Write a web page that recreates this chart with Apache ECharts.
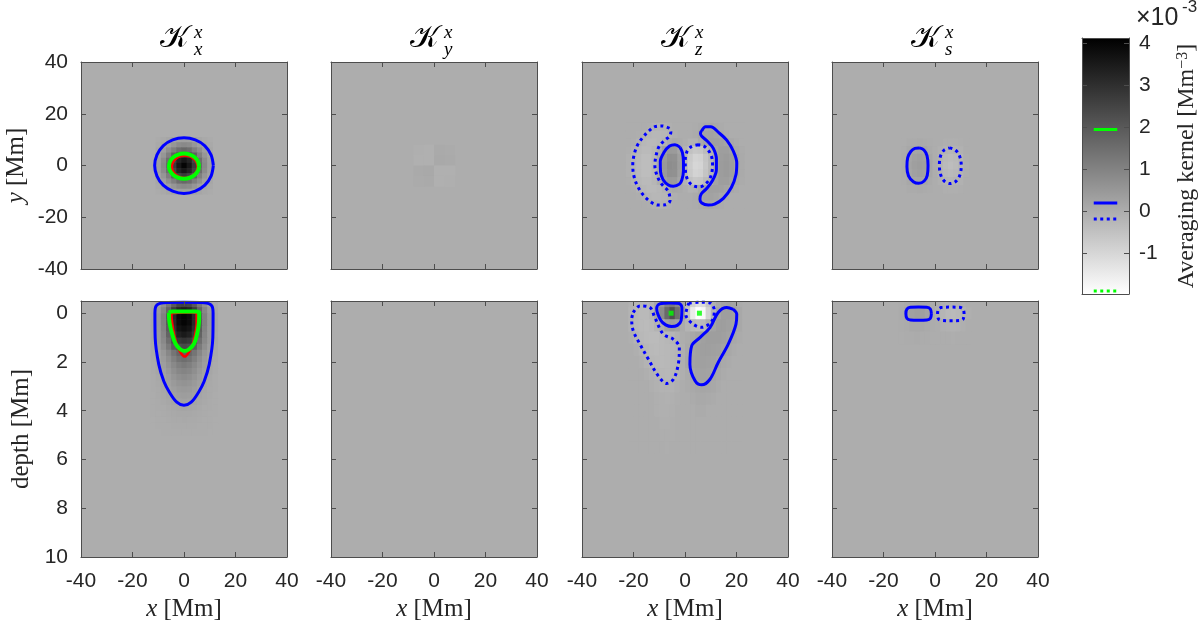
<!DOCTYPE html>
<html><head><meta charset="utf-8">
<script src="https://cdn.jsdelivr.net/npm/echarts@6/dist/echarts.min.js"></script>
<style>html,body{margin:0;padding:0;background:#fff}#c{width:1200px;height:625px}</style>
</head><body><div id="c"></div>
<script>
// ===================== DATA =====================
const cbMin = -1.97, cbMax = 4.13;            // colour bar range (x1e-3 Mm^-3)
const cbTicks = [-1, 0, 1, 2, 3, 4];
const xTicks = [-40, -20, 0, 20, 40];
const depthTicks = [0, 2, 4, 6, 8, 10];
const titleSup = ['x', 'x', 'x', 'x'];
const titleSub = ['x', 'y', 'z', 's'];

// contour level markers on the colour bar
const cbGreenSolid = [[0.25, 1.95], [0.75, 1.95]];
const cbBlueSolid = [[0.25, 0.2], [0.75, 0.2]];
const cbBlueDotted = [[0.25, -0.18], [0.75, -0.18]];
const cbGreenDotted = [[0.25, -1.9], [0.75, -1.9]];

// ---- K_x^x, horizontal cut ----
const kxxTopX = [-10, -8, -6, -4, -2, 0, 2, 4, 6, 8, 10];
const kxxTopY = [10, 8, 6, 4, 2, 0, -2, -4, -6, -8, -10];
const kxxTopZ = [
  [0.03, 0.08, 0.15, 0.22, 0.3, 0.33, 0.3, 0.22, 0.15, 0.08, 0.03],
  [0.08, 0.17, 0.33, 0.55, 0.78, 0.85, 0.78, 0.55, 0.33, 0.17, 0.08],
  [0.15, 0.33, 0.7, 1.1, 1.5, 1.65, 1.5, 1.1, 0.7, 0.33, 0.15],
  [0.22, 0.55, 1.1, 1.85, 2.5, 2.75, 2.5, 1.85, 1.1, 0.55, 0.22],
  [0.3, 0.78, 1.5, 2.5, 3.25, 3.55, 3.25, 2.5, 1.5, 0.78, 0.3],
  [0.33, 0.85, 1.65, 2.75, 3.55, 4.0, 3.55, 2.75, 1.65, 0.85, 0.33],
  [0.3, 0.78, 1.5, 2.5, 3.25, 3.55, 3.25, 2.5, 1.5, 0.78, 0.3],
  [0.22, 0.55, 1.1, 1.85, 2.5, 2.75, 2.5, 1.85, 1.1, 0.55, 0.22],
  [0.15, 0.33, 0.7, 1.1, 1.5, 1.65, 1.5, 1.1, 0.7, 0.33, 0.15],
  [0.08, 0.17, 0.33, 0.55, 0.78, 0.85, 0.78, 0.55, 0.33, 0.17, 0.08],
  [0.03, 0.08, 0.15, 0.22, 0.3, 0.33, 0.3, 0.22, 0.15, 0.08, 0.03]
];
const kxxTopBlue = [[11.4,0],[10.5,4.1],[8.1,7.6],[4.4,9.9],[0,10.7],[-4.4,9.9],[-8.1,7.6],[-10.5,4.1],[-11.4,0],[-10.5,-4.1],[-8.1,-7.6],[-4.4,-9.9],[0,-10.8],[4.4,-9.9],[8.1,-7.6],[10.5,-4.1]];
const kxxTopGreen = [[5.85,-0.25],[5.4,1.6],[4.14,3.2],[2.24,4.23],[0,4.6],[-2.24,4.23],[-4.14,3.2],[-5.4,1.6],[-5.85,-0.25],[-5.4,-2.1],[-4.14,-3.68],[-2.24,-4.73],[0,-5.1],[2.24,-4.73],[4.14,-3.68],[5.4,-2.1]];
const kxxTopRed = [[5.3,-0.5],[4.9,1.15],[3.8,2.55],[2.2,3.5],[0.3,3.8],[-1.6,3.5],[-3.2,2.55],[-4.3,1.15],[-4.7,-0.5],[-4.3,-2.15],[-3.2,-3.55],[-1.6,-4.5],[0.3,-4.8],[2.2,-4.5],[3.8,-3.55],[4.9,-2.15]];

// ---- K_y^x, horizontal cut ----
const kyxTopX = [-6, -2, 2, 6];
const kyxTopY = [6, 2, -2, -6];
const kyxTopZ = [
  [-0.05, -0.07, 0.06, 0.04],
  [-0.07, -0.09, 0.09, 0.06],
  [0.06, 0.09, -0.09, -0.07],
  [0.04, 0.06, -0.07, -0.05]
];

// ---- K_z^x, horizontal cut ----
const kzxTopX = [-22,-20,-18,-16,-14,-12,-10,-8,-6,-4,-2,0,2,4,6,8,10,12,14,16,18,20,22];
const kzxTopY = [15, 12, 9, 6, 3, 0, -3, -6, -9, -12, -15];
const kzxTopZ = [
  [0,0,0,0,-0.03,-0.1,-0.15,-0.13,-0.06,-0.02,0,0,0,0.02,0.06,0.12,0.13,0.08,0.03,0,0,0,0],
  [0,0,-0.03,-0.1,-0.2,-0.25,-0.25,-0.22,-0.14,-0.05,0,0,0,0.05,0.15,0.24,0.25,0.2,0.1,0.04,0,0,0],
  [0,-0.04,-0.12,-0.24,-0.3,-0.3,-0.24,-0.12,0.02,0.08,0.04,-0.04,-0.12,-0.1,0.08,0.2,0.3,0.3,0.28,0.2,0.1,0.03,0],
  [-0.04,-0.12,-0.25,-0.32,-0.32,-0.22,0,0.3,0.45,0.42,0.18,-0.15,-0.48,-0.62,-0.58,-0.35,-0.08,0.2,0.35,0.35,0.26,0.12,0.03],
  [-0.07,-0.2,-0.3,-0.38,-0.38,-0.25,0.08,0.45,0.68,0.65,0.3,-0.2,-0.7,-0.92,-0.88,-0.55,-0.22,0.15,0.38,0.42,0.35,0.18,0.06],
  [-0.08,-0.2,-0.32,-0.4,-0.4,-0.25,0.1,0.5,0.75,0.72,0.35,-0.2,-0.75,-1.0,-0.95,-0.6,-0.25,0.15,0.4,0.45,0.38,0.2,0.07],
  [-0.07,-0.2,-0.3,-0.38,-0.38,-0.25,0.08,0.45,0.68,0.65,0.3,-0.2,-0.7,-0.92,-0.88,-0.55,-0.22,0.15,0.38,0.42,0.35,0.18,0.06],
  [-0.04,-0.12,-0.25,-0.32,-0.32,-0.22,0,0.3,0.45,0.42,0.18,-0.15,-0.48,-0.62,-0.58,-0.35,-0.08,0.2,0.35,0.35,0.26,0.12,0.03],
  [0,-0.04,-0.12,-0.24,-0.3,-0.3,-0.24,-0.12,0.02,0.08,0.04,-0.04,-0.12,-0.1,0.08,0.2,0.3,0.3,0.28,0.2,0.1,0.03,0],
  [0,0,-0.03,-0.1,-0.2,-0.25,-0.25,-0.22,-0.14,-0.05,0,0,0,0.05,0.15,0.24,0.25,0.2,0.1,0.04,0,0,0],
  [0,0,0,0,-0.03,-0.1,-0.15,-0.13,-0.06,-0.02,0,0,0,0.02,0.06,0.12,0.13,0.08,0.03,0,0,0,0]
];
const kzxTopSolidL = [[-1.9,7.0],[-3.9,8.0],[-6.0,7.5],[-8.2,5.0],[-9.6,1.5],[-9.5,-2.5],[-8.5,-5.5],[-6.5,-7.5],[-4.5,-8.0],[-2.2,-7.2],[-1.2,-5.5],[-0.6,-2.0],[-0.6,1.5],[-1.0,5.0]];
const kzxTopSolidR = [[6.5,13.4],[8.0,15.0],[10.0,15.0],[13.0,12.8],[16.2,9.8],[18.8,5.5],[20.1,1.0],[19.8,-3.5],[18.0,-8.5],[14.9,-12.7],[11.5,-14.9],[9.0,-15.3],[6.5,-14.5],[5.8,-13.0],[6.3,-11.0],[8.5,-8.8],[10.8,-5.6],[12.2,-1.5],[12.2,2.5],[11.0,6.6],[8.8,9.3],[6.5,11.3],[6.0,12.5]];
const kzxTopDotC = [[5.2,8.0],[2.5,7.3],[0.8,5.5],[0.1,2.0],[0.2,-2.5],[1.3,-6.0],[3.2,-7.8],[5.8,-8.2],[8.3,-6.8],[9.9,-4.5],[10.7,0],[10.3,3.5],[8.8,6.2],[7.0,7.7]];
const kzxTopDotL = [[-6.0,14.4],[-8.8,15.3],[-11.7,15.0],[-14.2,13.2],[-16.4,10.8],[-18.5,7.8],[-19.8,4.0],[-20.3,0],[-19.8,-4.2],[-18.4,-8.0],[-16.2,-11.4],[-13.4,-14.0],[-10.4,-15.3],[-7.6,-15.2],[-5.8,-13.5],[-6.5,-10.0],[-8.8,-7.5],[-10.6,-4.5],[-11.7,0],[-11.2,4.0],[-10.0,7.5],[-7.8,9.8],[-6.0,11.3],[-5.5,13.0]];

// ---- K_s^x, horizontal cut ----
const ksxTopX = [-12,-10,-8,-6,-4,-2,0,2,4,6,8,10,12];
const ksxTopY = [9, 6, 3, 0, -3, -6, -9];
const ksxTopZ = [
  [0,0.03,0.05,0.06,0.05,0.02,0,-0.02,-0.05,-0.06,-0.05,-0.03,0],
  [0.02,0.1,0.16,0.19,0.16,0.07,0,-0.07,-0.16,-0.19,-0.16,-0.1,-0.02],
  [0.04,0.17,0.28,0.32,0.28,0.13,0,-0.13,-0.28,-0.32,-0.28,-0.17,-0.04],
  [0.05,0.2,0.33,0.38,0.33,0.15,0,-0.15,-0.33,-0.38,-0.33,-0.2,-0.05],
  [0.04,0.17,0.28,0.32,0.28,0.13,0,-0.13,-0.28,-0.32,-0.28,-0.17,-0.04],
  [0.02,0.1,0.16,0.19,0.16,0.07,0,-0.07,-0.16,-0.19,-0.16,-0.1,-0.02],
  [0,0.03,0.05,0.06,0.05,0.02,0,-0.02,-0.05,-0.06,-0.05,-0.03,0]
];
const ksxTopSolid = [[-6.1,6.8],[-4.3,6.0],[-3.1,3.8],[-2.7,0],[-3.0,-3.8],[-4.2,-6.0],[-6.3,-6.9],[-8.4,-6.3],[-10.3,-4.0],[-10.9,-0.5],[-10.6,3.0],[-9.4,5.4],[-7.8,6.6]];
const ksxTopDot = [[5.6,6.8],[8.0,5.9],[9.6,3.5],[10.2,0],[9.7,-3.6],[8.2,-6.0],[5.9,-7.0],[3.6,-6.0],[2.2,-3.6],[1.7,0],[2.1,3.5],[3.5,5.9]];

// ---- K_x^x, vertical cut ----
const kxxBotX = [-12,-10,-8,-6,-4,-2,0,2,4,6,8,10,12];
const kxxBotD = [-0.375,-0.125,0.125,0.375,0.625,0.875,1.125,1.375,1.625,1.875,2.125,2.375,2.625,2.875,3.125,3.375,3.625,3.875,4.125,4.375,4.625,4.875];
const kxxBotZ = [
  [0.1,0.31,0.65,1.25,2.0,2.5,2.6,2.5,2.0,1.25,0.65,0.31,0.1],
  [0.14,0.42,0.9,1.7,2.75,3.35,3.5,3.35,2.75,1.7,0.9,0.42,0.14],
  [0.16,0.5,1.05,2.0,3.15,3.85,4.0,3.85,3.15,2.0,1.05,0.5,0.16],
  [0.16,0.5,1.05,2.0,3.15,3.85,4.0,3.85,3.15,2.0,1.05,0.5,0.16],
  [0.15,0.48,1.0,1.9,3.0,3.65,3.8,3.65,3.0,1.9,1.0,0.48,0.15],
  [0.14,0.44,0.92,1.75,2.75,3.35,3.5,3.35,2.75,1.75,0.92,0.44,0.14],
  [0.17,0.44,0.85,1.5,2.3,2.8,2.9,2.8,2.3,1.5,0.85,0.44,0.17],
  [0.14,0.36,0.7,1.22,1.9,2.3,2.4,2.3,1.9,1.22,0.7,0.36,0.14],
  [0.11,0.28,0.52,0.89,1.33,1.7,1.85,1.7,1.33,0.89,0.52,0.28,0.11],
  [0.09,0.23,0.42,0.72,1.08,1.38,1.5,1.38,1.08,0.72,0.42,0.23,0.09],
  [0.07,0.18,0.34,0.58,0.86,1.1,1.2,1.1,0.86,0.58,0.34,0.18,0.07],
  [0.06,0.15,0.27,0.47,0.7,0.89,0.97,0.89,0.7,0.47,0.27,0.15,0.06],
  [0.05,0.12,0.22,0.37,0.56,0.72,0.78,0.72,0.56,0.37,0.22,0.12,0.05],
  [0.04,0.09,0.17,0.3,0.45,0.57,0.62,0.57,0.45,0.3,0.17,0.09,0.04],
  [0.03,0.07,0.13,0.23,0.35,0.44,0.48,0.44,0.35,0.23,0.13,0.07,0.03],
  [0.02,0.06,0.1,0.18,0.27,0.34,0.37,0.34,0.27,0.18,0.1,0.06,0.02],
  [0.02,0.04,0.08,0.13,0.2,0.26,0.28,0.26,0.2,0.13,0.08,0.04,0.02],
  [0.01,0.03,0.05,0.09,0.13,0.17,0.18,0.17,0.13,0.09,0.05,0.03,0.01],
  [0.01,0.02,0.03,0.06,0.09,0.11,0.12,0.11,0.09,0.06,0.03,0.02,0.01],
  [0,0.01,0.02,0.04,0.06,0.07,0.08,0.07,0.06,0.04,0.02,0.01,0],
  [0,0.01,0.01,0.02,0.03,0.04,0.04,0.04,0.03,0.02,0.01,0.01,0],
  [0,0,0.01,0.01,0.01,0.02,0.02,0.02,0.01,0.01,0.01,0,0]
];
const kxxBotBlue = [[-11.3,0],[-10.8,-0.3],[-8,-0.43],[0,-0.45],[8,-0.43],[10.8,-0.3],[11.3,0],[11.2,1.0],[9.8,2.1],[7.8,2.8],[5.6,3.25],[2.8,3.65],[0,3.78],[-2.8,3.65],[-5.6,3.25],[-7.8,2.8],[-9.8,2.1],[-11.2,1.0]];
const kxxBotGreen = [[-5.9,-0.02],[-4.6,-0.07],[0,-0.07],[4.6,-0.07],[5.9,-0.02],[5.8,0.4],[5.1,0.85],[3.9,1.25],[2.0,1.48],[0.3,1.55],[-1.5,1.48],[-3.3,1.25],[-4.6,0.85],[-5.6,0.4]];
const kxxBotRed = [[-4.9,0.0],[0,-0.03],[4.9,0.0],[4.9,0.4],[4.3,0.9],[3.1,1.35],[1.6,1.65],[0.3,1.78],[-1.1,1.65],[-2.6,1.35],[-3.8,0.9],[-4.6,0.4]];

// ---- K_z^x, vertical cut ----
const kzxBotX = [-21,-19,-17,-15,-13,-11,-9,-7,-5,-3,-1,1,3,5,7,9,11,13,15,17,19,21];
const kzxBotD = [-0.5,0,0.5,1.0,1.5,2.0,2.5,3.0,3.5,4.0,4.5,5.0,5.5];
const kzxBotZ = [
  [-0.1,-0.2,-0.25,-0.25,-0.15,0.1,0.5,1.0,1.2,0.9,0.2,-0.3,-0.9,-1.2,-1.1,-0.6,-0.1,0.1,0.2,0.25,0.2,0.05],
  [-0.15,-0.25,-0.3,-0.3,-0.2,0.2,0.8,1.6,2.2,1.5,0.4,-0.5,-1.5,-2.2,-1.8,-0.9,-0.2,0.2,0.35,0.35,0.3,0.1],
  [-0.15,-0.28,-0.32,-0.35,-0.3,-0.15,0.0,0.25,0.35,0.25,0.05,-0.15,-0.3,-0.4,-0.3,0.0,0.22,0.35,0.35,0.3,0.25,0.1],
  [-0.05,-0.18,-0.28,-0.32,-0.35,-0.35,-0.3,-0.25,-0.2,-0.1,0,0.05,0.12,0.2,0.3,0.35,0.35,0.35,0.3,0.22,0.12,0.03],
  [0,-0.05,-0.15,-0.25,-0.3,-0.32,-0.3,-0.28,-0.25,-0.2,-0.05,0.08,0.2,0.28,0.32,0.32,0.3,0.27,0.2,0.12,0.05,0],
  [0,0,-0.05,-0.15,-0.25,-0.28,-0.3,-0.28,-0.25,-0.2,-0.05,0.1,0.22,0.28,0.3,0.28,0.25,0.18,0.08,0.03,0,0],
  [0,0,0,-0.05,-0.12,-0.2,-0.25,-0.26,-0.24,-0.17,-0.05,0.05,0.17,0.24,0.26,0.24,0.18,0.1,0.04,0,0,0],
  [0,0,0,0,-0.05,-0.1,-0.14,-0.16,-0.14,-0.08,-0.02,0.03,0.08,0.14,0.16,0.14,0.1,0.05,0,0,0,0],
  [0,0,0,0,0,-0.06,-0.09,-0.1,-0.08,-0.04,0,0,0.04,0.08,0.09,0.07,0.04,0,0,0,0,0],
  [0,0,0,0,0,-0.05,-0.07,-0.07,-0.05,0,0,0,0,0.05,0.05,0,0,0,0,0,0,0],
  [0,0,0,0,0,0,-0.05,-0.05,-0.04,0,0,0,0,0,0,0,0,0,0,0,0,0],
  [0,0,0,0,0,0,-0.03,-0.04,-0.03,0,0,0,0,0,0,0,0,0,0,0,0,0],
  [0,0,0,0,0,0,0,-0.03,-0.02,0,0,0,0,0,0,0,0,0,0,0,0,0]
];
const kzxBotSolidS = [[-5.8,-0.42],[-2.3,-0.4],[-1.2,-0.22],[-1.5,0.3],[-3.0,0.5],[-5.2,0.55],[-7.5,0.48],[-9.5,0.28],[-11.0,-0.2],[-9.8,-0.38]];
const kzxBotDotS = [[1.5,-0.42],[5.8,-0.45],[9.7,-0.42],[11.4,-0.1],[10.3,0.35],[6.5,0.58],[2.8,0.42],[0.3,0.05]];
const kzxBotDotL = [[-20.1,-0.03],[-17.5,-0.3],[-13.6,-0.23],[-11.7,0.18],[-8.4,0.86],[-4.5,1.07],[-2.2,1.41],[-2.6,2.09],[-4.5,2.71],[-7.1,2.88],[-10.4,2.57],[-14.2,1.89],[-17.5,1.27],[-20.1,0.72],[-20.7,0.25]];
const kzxBotSolidL = [[18.8,-0.16],[16.2,-0.23],[12.9,-0.03],[9.7,0.59],[5.8,1.0],[2.6,1.34],[1.9,2.09],[3.9,2.77],[6.5,2.94],[9.7,2.71],[12.9,2.02],[16.8,1.27],[19.8,0.45],[20.1,0.04]];
const kzxBotSpotPos = [[-5.4, 0]];
const kzxBotSpotNeg = [[5.6, 0]];

// ---- K_s^x, vertical cut ----
const ksxBotX = [-13,-11,-9,-7,-5,-3,-1,1,3,5,7,9,11,13];
const ksxBotD = [-0.5, 0, 0.5, 1.0];
const ksxBotZ = [
  [0.02,0.06,0.11,0.13,0.12,0.08,0.02,-0.02,-0.08,-0.12,-0.13,-0.11,-0.06,-0.02],
  [0.05,0.15,0.28,0.33,0.3,0.2,0.05,-0.05,-0.2,-0.3,-0.33,-0.28,-0.15,-0.05],
  [0.02,0.05,0.1,0.12,0.1,0.07,0.02,-0.02,-0.07,-0.1,-0.12,-0.1,-0.05,-0.02],
  [0,0.01,0.02,0.03,0.02,0.02,0,0,-0.02,-0.02,-0.03,-0.02,-0.01,0]
];
const ksxBotSolid = [[-1.4,0.02],[-1.8,-0.17],[-3.2,-0.24],[-6.35,-0.25],[-9.5,-0.24],[-10.9,-0.17],[-11.3,0.02],[-10.9,0.21],[-9.5,0.28],[-6.35,0.29],[-3.2,0.28],[-1.8,0.21]];
const ksxBotDot = [[11.3,0.03],[10.9,-0.17],[9.4,-0.24],[6.15,-0.25],[2.9,-0.24],[1.4,-0.17],[1.0,0.03],[1.4,0.24],[2.9,0.3],[6.15,0.31],[9.4,0.3],[10.9,0.24]];

// ===================== LAYOUT / STYLE =====================
const colLefts = [81, 331, 582, 832], colW = 206;
const rowsL = [{ top: 62, h: 207 }, { top: 301, h: 256 }];
const cbBox = { left: 1082, top: 38, width: 51, height: 256 };
const axisColor = '#4d4d4d', textColor = '#262626';
const sansFont = 'Liberation Sans, Arial, Helvetica, sans-serif';
const serifFont = 'Liberation Serif, DejaVu Serif, serif';
const BLUE = '#0000ff', GREEN = '#00ff00', RED = '#ff0000';

function gray(v) {
  let t = (v - cbMin) / (cbMax - cbMin);
  t = Math.max(0, Math.min(1, t));
  const g = Math.round(255 * (1 - t));
  return 'rgb(' + g + ',' + g + ',' + g + ')';
}

const panels = [
  { cells: [[kxxTopX, kxxTopY, kxxTopZ]], red: [kxxTopRed], green: [kxxTopGreen], solid: [kxxTopBlue] },
  { cells: [[kyxTopX, kyxTopY, kyxTopZ]] },
  { cells: [[kzxTopX, kzxTopY, kzxTopZ]], solid: [kzxTopSolidL, kzxTopSolidR], dotted: [kzxTopDotC, kzxTopDotL] },
  { cells: [[ksxTopX, ksxTopY, ksxTopZ]], solid: [ksxTopSolid], dotted: [ksxTopDot] },
  { cells: [[kxxBotX, kxxBotD, kxxBotZ]], red: [kxxBotRed], green: [kxxBotGreen], solid: [kxxBotBlue] },
  { cells: [] },
  { cells: [[kzxBotX, kzxBotD, kzxBotZ]], solid: [kzxBotSolidS, kzxBotSolidL], dotted: [kzxBotDotS, kzxBotDotL], spots: [kzxBotSpotPos, kzxBotSpotNeg] },
  { cells: [[ksxBotX, ksxBotD, ksxBotZ]], solid: [ksxBotSolid], dotted: [ksxBotDot] }
];

function renderCell(params, api) {
  const x = api.value(0), y = api.value(1), v = api.value(2), w = api.value(3), h = api.value(4);
  const a = api.coord([x - w / 2, y - h / 2]);
  const b = api.coord([x + w / 2, y + h / 2]);
  const cs = params.coordSys;
  let x0 = Math.max(Math.min(a[0], b[0]), cs.x), x1 = Math.min(Math.max(a[0], b[0]) + 0.6, cs.x + cs.width);
  let y0 = Math.max(Math.min(a[1], b[1]), cs.y), y1 = Math.min(Math.max(a[1], b[1]) + 0.6, cs.y + cs.height);
  if (x1 <= x0 || y1 <= y0) return null;
  return { type: 'rect', shape: { x: x0, y: y0, width: x1 - x0, height: y1 - y0 }, style: { fill: gray(v) } };
}

function closeLoop(pts) { return pts.concat([pts[0]]); }

const grids = [], xAxes = [], yAxes = [], series = [], graphics = [];
const tickStyle = { show: true, inside: true, length: 5, lineStyle: { color: axisColor, width: 1 } };
const lineAx = { show: true, onZero: false, lineStyle: { color: axisColor, width: 1 } };
const labelStyle = { fontFamily: sansFont, fontSize: 21, color: textColor };
const nameStyle = { fontFamily: serifFont, fontSize: 25, color: textColor,
  rich: { i: { fontFamily: serifFont, fontSize: 25, fontStyle: 'italic', color: textColor } } };

for (let r = 0; r < 2; r++) {
  for (let c = 0; c < 4; c++) {
    const gi = grids.length;
    grids.push({ left: colLefts[c], top: rowsL[r].top, width: colW, height: rowsL[r].h,
      show: true, backgroundColor: gray(0), borderWidth: 0 });
    const bx = { type: 'value', gridIndex: gi, min: -40, max: 40, interval: 20, z: 10,
      axisLine: lineAx, axisTick: tickStyle, splitLine: { show: false } };
    xAxes.push(Object.assign({}, bx, { position: 'bottom',
      axisLabel: Object.assign({ show: r === 1, margin: 14 }, labelStyle),
      name: r === 1 ? '{i|x} [Mm]' : '', nameLocation: 'middle', nameGap: 40, nameTextStyle: nameStyle }));
    xAxes.push(Object.assign({}, bx, { position: 'top', axisLabel: { show: false } }));
    let by;
    if (r === 0) {
      by = { type: 'value', gridIndex: gi, min: -40, max: 40, interval: 20, z: 10,
        axisLine: lineAx, axisTick: tickStyle, splitLine: { show: false } };
    } else {
      by = { type: 'value', gridIndex: gi, min: -0.5, max: 10, inverse: true, z: 10,
        axisLine: lineAx, axisTick: Object.assign({ customValues: depthTicks }, tickStyle), splitLine: { show: false } };
    }
    const lab = Object.assign({ show: c === 0, margin: 13 }, labelStyle);
    if (r === 1) lab.customValues = depthTicks;
    yAxes.push(Object.assign({}, by, { position: 'left', axisLabel: lab,
      name: c === 0 ? (r === 0 ? '{i|y} [Mm]' : 'depth [Mm]') : '', nameLocation: 'middle', nameRotate: 90,
      nameGap: r === 0 ? 52 : 47, nameTextStyle: nameStyle }));
    yAxes.push(Object.assign({}, by, { position: 'right', axisLabel: { show: false } }));

    const p = panels[gi];
    const ai = 2 * gi;
    const cellData = [];
    p.cells.forEach(function (L) {
      const xs = L[0], ys = L[1], zs = L[2];
      const dx = Math.abs(xs[1] - xs[0]), dy = Math.abs(ys[1] - ys[0]);
      for (let j = 0; j < ys.length; j++) for (let i = 0; i < xs.length; i++)
        cellData.push([xs[i], ys[j], zs[j][i], dx, dy]);
    });
    if (cellData.length) series.push({ type: 'custom', xAxisIndex: ai, yAxisIndex: ai, data: cellData,
      renderItem: renderCell, silent: true, z: 1, animation: false });
    const addLines = function (list, color, width, type, z) {
      (list || []).forEach(function (pts) {
        series.push({ type: 'line', xAxisIndex: ai, yAxisIndex: ai, data: closeLoop(pts), smooth: 0.35,
          symbol: 'none', silent: true, z: z, animation: false,
          lineStyle: { color: color, width: width, type: type, cap: 'butt' } });
      });
    };
    addLines(p.red, RED, 2.5, 'solid', 3);
    addLines(p.green, GREEN, 4, 'solid', 4);
    addLines(p.solid, BLUE, 3, 'solid', 5);
    addLines(p.dotted, BLUE, 3, [3, 3.5], 5);
    (p.spots || []).forEach(function (pts) {
      series.push({ type: 'scatter', xAxisIndex: ai, yAxisIndex: ai, data: pts, symbol: 'rect', symbolSize: 5,
        itemStyle: { color: GREEN }, silent: true, z: 6, animation: false });
    });

    if (r === 0) {
      const cx = colLefts[c] + colW / 2;
      graphics.push({ type: 'text', left: cx - 24, top: 23, style: { text: '\u{1D4A6}', font: '31px "DejaVu Serif", serif', fill: '#000' } });
      graphics.push({ type: 'text', left: cx + 10, top: 23, style: { text: titleSup[c], font: 'italic 19px "Liberation Serif", serif', fill: '#000' } });
      graphics.push({ type: 'text', left: cx + 10, top: 40, style: { text: titleSub[c], font: 'italic 19px "Liberation Serif", serif', fill: '#000' } });
    }
  }
}

// ---- colour bar ----
const cgi = grids.length;
grids.push({ left: cbBox.left, top: cbBox.top, width: cbBox.width, height: cbBox.height, show: false });
const cbx = { type: 'value', gridIndex: cgi, min: 0, max: 1, z: 10, axisLine: lineAx, axisTick: { show: false },
  axisLabel: { show: false }, splitLine: { show: false } };
xAxes.push(Object.assign({}, cbx, { position: 'bottom' }));
xAxes.push(Object.assign({}, cbx, { position: 'top' }));
const cby = { type: 'value', gridIndex: cgi, min: cbMin, max: cbMax, z: 10, axisLine: lineAx,
  axisTick: Object.assign({ customValues: cbTicks }, tickStyle), splitLine: { show: false } };
yAxes.push(Object.assign({}, cby, { position: 'right',
  axisLabel: Object.assign({ customValues: cbTicks, margin: 10 }, labelStyle),
  name: 'Averaging kernel [Mm{s|\u22123}]', nameLocation: 'middle', nameRotate: 90, nameGap: 46,
  nameTextStyle: { fontFamily: serifFont, fontSize: 24, color: textColor,
    rich: { s: { fontFamily: serifFont, fontSize: 16, color: textColor, verticalAlign: 'top' } } } }));
yAxes.push(Object.assign({}, cby, { position: 'left', axisLabel: { show: false } }));
const cai = 2 * cgi;
series.push({ type: 'custom', xAxisIndex: cai, yAxisIndex: cai, data: [[0, cbMin, cbMax]], silent: true, z: 1, animation: false,
  renderItem: function (params, api) {
    const a = api.coord([0, api.value(2)]), b = api.coord([1, api.value(1)]);
    return { type: 'rect', shape: { x: a[0], y: a[1], width: b[0] - a[0], height: b[1] - a[1] },
      style: { fill: { type: 'linear', x: 0, y: 0, x2: 0, y2: 1,
        colorStops: [{ offset: 0, color: gray(cbMax) }, { offset: 1, color: gray(cbMin) }] } } };
  } });
[[cbGreenSolid, GREEN, 'solid'], [cbBlueSolid, BLUE, 'solid'], [cbBlueDotted, BLUE, [3, 3.5]], [cbGreenDotted, GREEN, [3, 3.5]]]
  .forEach(function (m) {
    series.push({ type: 'line', xAxisIndex: cai, yAxisIndex: cai, data: m[0], symbol: 'none', silent: true, z: 5, animation: false,
      lineStyle: { color: m[1], width: 3, type: m[2], cap: 'butt' } });
  });
graphics.push({ type: 'text', left: 1136, top: 6, style: { text: '\u00d710', font: '25px "Liberation Sans", sans-serif', fill: textColor } });
graphics.push({ type: 'text', left: 1182, top: -1, style: { text: '-3', font: '17px "Liberation Sans", sans-serif', fill: textColor } });

const chart = echarts.init(document.getElementById('c'));
chart.setOption({
  animation: false,
  backgroundColor: '#ffffff',
  grid: grids, xAxis: xAxes, yAxis: yAxes, series: series, graphic: graphics
});
</script>
</body></html>
